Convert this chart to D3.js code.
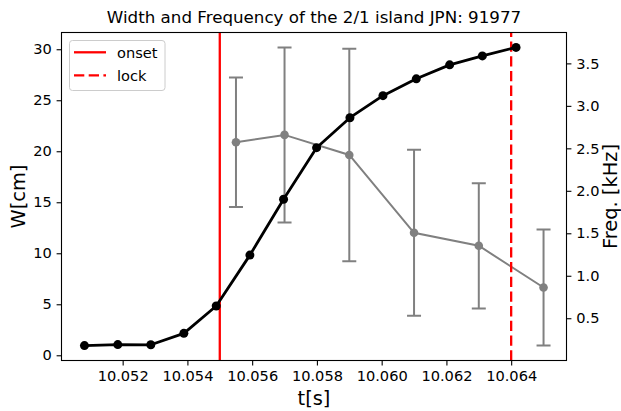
<!DOCTYPE html>
<html>
<head>
<meta charset="utf-8">
<script src="https://cdn.jsdelivr.net/npm/d3@7"></script>
<style>
  html, body { margin: 0; padding: 0; background: #fff; }
  svg { display: block; font-family: "DejaVu Sans", sans-serif; }
</style>
</head>
<body>
<svg id="chart" width="621" height="411"></svg>
<script>
// Island width (left axis, cm) sampled in time
const widthTimes = [10.05082, 10.05185, 10.05287, 10.05389, 10.05489, 10.05593, 10.05697,
                    10.05799, 10.05902, 10.06004, 10.06107, 10.06210, 10.06311, 10.06415];
const widthValues = [0.95, 1.05, 1.03, 2.15, 4.83, 9.82, 15.30, 20.35, 23.29, 25.45, 27.10, 28.47, 29.35, 30.18];

// Mode frequency (right axis, kHz) with symmetric error bars
const freqTimes = [10.0555, 10.057, 10.059, 10.061, 10.063, 10.065];
const freqValues = [2.572, 2.658, 2.422, 1.506, 1.353, 0.862];
const freqErrors = [0.763, 1.030, 1.250, 0.977, 0.737, 0.684];

// Event markers
const onsetTime = 10.055;
const lockTime = 10.064;

const xTicks = [10.052, 10.054, 10.056, 10.058, 10.060, 10.062, 10.064];
const yLeftTicks = [0, 5, 10, 15, 20, 25, 30];
const yRightTicks = [0.5, 1.0, 1.5, 2.0, 2.5, 3.0, 3.5];

const titleText = "Width and Frequency of the 2/1 island JPN: 91977";

const svg = d3.select("#chart");
const L = 61.5, R = 566.5, T = 32.5, B = 360.5;

// autoscale with 5% margins
function padded(lo, hi) { const m = (hi - lo) * 0.05; return [lo - m, hi + m]; }
const allT = widthTimes.concat(freqTimes);
const x = d3.scaleLinear().domain(padded(d3.min(allT), d3.max(allT))).range([L, R]);
const yL = d3.scaleLinear().domain(padded(d3.min(widthValues), d3.max(widthValues))).range([B, T]);
const fLo = d3.min(freqValues.map((v, i) => v - freqErrors[i]));
const fHi = d3.max(freqValues.map((v, i) => v + freqErrors[i]));
const yR = d3.scaleLinear().domain(padded(fLo, fHi)).range([B, T]);

const tickFont = 14.6;

// Axes
const axB = svg.append("g").attr("transform", `translate(0,${B})`)
  .call(d3.axisBottom(x).tickValues(xTicks).tickFormat(d3.format(".3f")).tickSizeOuter(0).tickSize(4.9).tickPadding(4.9));
const axL = svg.append("g").attr("transform", `translate(${L},0)`)
  .call(d3.axisLeft(yL).tickValues(yLeftTicks).tickFormat(d3.format("d")).tickSizeOuter(0).tickSize(4.9).tickPadding(4.9));
const axR = svg.append("g").attr("transform", `translate(${R},0)`)
  .call(d3.axisRight(yR).tickValues(yRightTicks).tickFormat(d3.format(".1f")).tickSizeOuter(0).tickSize(4.9).tickPadding(4.9));
[axB, axL, axR].forEach(g => {
  g.select(".domain").remove();
  g.selectAll(".tick line").attr("stroke", "#000").attr("stroke-width", 1.1);
  g.selectAll(".tick text").attr("fill", "#000").style("font-size", tickFont + "px")
    .style("font-family", "DejaVu Sans, sans-serif");
});

// Clip region for plot content
svg.append("clipPath").attr("id", "plotClip")
  .append("rect").attr("x", L).attr("y", T).attr("width", R - L).attr("height", B - T);
const plot = svg.append("g").attr("clip-path", "url(#plotClip)");

// Frequency series with error bars
const gray = "#808080";
const cap = 7;
const fg = plot.append("g");
freqTimes.forEach((t, i) => {
  const cx = x(t), lo = yR(freqValues[i] - freqErrors[i]), hi = yR(freqValues[i] + freqErrors[i]);
  fg.append("line").attr("x1", cx).attr("x2", cx).attr("y1", lo).attr("y2", hi)
    .attr("stroke", gray).attr("stroke-width", 2);
  [lo, hi].forEach(yy => fg.append("line").attr("x1", cx - cap).attr("x2", cx + cap)
    .attr("y1", yy).attr("y2", yy).attr("stroke", gray).attr("stroke-width", 2));
});
fg.append("path")
  .attr("d", d3.line().x((d, i) => x(freqTimes[i])).y(d => yR(d))(freqValues))
  .attr("fill", "none").attr("stroke", gray).attr("stroke-width", 2);
fg.selectAll("circle").data(freqValues).join("circle")
  .attr("cx", (d, i) => x(freqTimes[i])).attr("cy", d => yR(d)).attr("r", 4.3).attr("fill", gray);

// Onset and lock lines
plot.append("line").attr("x1", x(onsetTime)).attr("x2", x(onsetTime)).attr("y1", B).attr("y2", T)
  .attr("stroke", "#ff0000").attr("stroke-width", 2.3);
plot.append("line").attr("x1", x(lockTime)).attr("x2", x(lockTime)).attr("y1", B).attr("y2", T)
  .attr("stroke", "#ff0000").attr("stroke-width", 2.3).attr("stroke-dasharray", "10.3,4.4");

// Width series
const wg = plot.append("g");
wg.append("path")
  .attr("d", d3.line().x((d, i) => x(widthTimes[i])).y(d => yL(d))(widthValues))
  .attr("fill", "none").attr("stroke", "#000").attr("stroke-width", 2.8).attr("stroke-linejoin", "round");
wg.selectAll("circle").data(widthValues).join("circle")
  .attr("cx", (d, i) => x(widthTimes[i])).attr("cy", d => yL(d)).attr("r", 4.5).attr("fill", "#000");

// Frame
svg.append("rect").attr("x", L).attr("y", T).attr("width", R - L).attr("height", B - T)
  .attr("fill", "none").attr("stroke", "#000").attr("stroke-width", 1.1);

// Legend
const lg = svg.append("g");
lg.append("rect").attr("x", 69.5).attr("y", 40.5).attr("width", 95.5).attr("height", 50).attr("rx", 3)
  .attr("fill", "#fff").attr("fill-opacity", 0.8).attr("stroke", "#cccccc").attr("stroke-width", 1);
const legendItems = [{ label: "onset", dash: null, y: 52.3 }, { label: "lock", dash: "10.3,4.4", y: 75.3 }];
legendItems.forEach(it => {
  const ln = lg.append("line").attr("x1", 74).attr("x2", 106).attr("y1", it.y).attr("y2", it.y)
    .attr("stroke", "#ff0000").attr("stroke-width", 2.3);
  if (it.dash) ln.attr("stroke-dasharray", it.dash);
  lg.append("text").attr("x", 117).attr("y", it.y + 5.3).text(it.label)
    .style("font-size", tickFont + "px").attr("fill", "#000");
});

// Title and axis labels
svg.append("text").attr("x", (L + R) / 2).attr("y", 22.5).attr("text-anchor", "middle")
  .style("font-size", "16.7px").attr("fill", "#000").text(titleText);
svg.append("text").attr("x", (L + R) / 2).attr("y", 405).attr("text-anchor", "middle")
  .style("font-size", "19.4px").attr("fill", "#000").text("t[s]");
svg.append("text").attr("transform", `translate(25,${(T + B) / 2}) rotate(-90)`).attr("text-anchor", "middle")
  .style("font-size", "19.4px").attr("fill", "#000").text("W[cm]");
svg.append("text").attr("transform", `translate(617,${(T + B) / 2}) rotate(-90)`).attr("text-anchor", "middle")
  .style("font-size", "19.4px").attr("fill", "#000").text("Freq. [kHz]");
</script>
</body>
</html>
